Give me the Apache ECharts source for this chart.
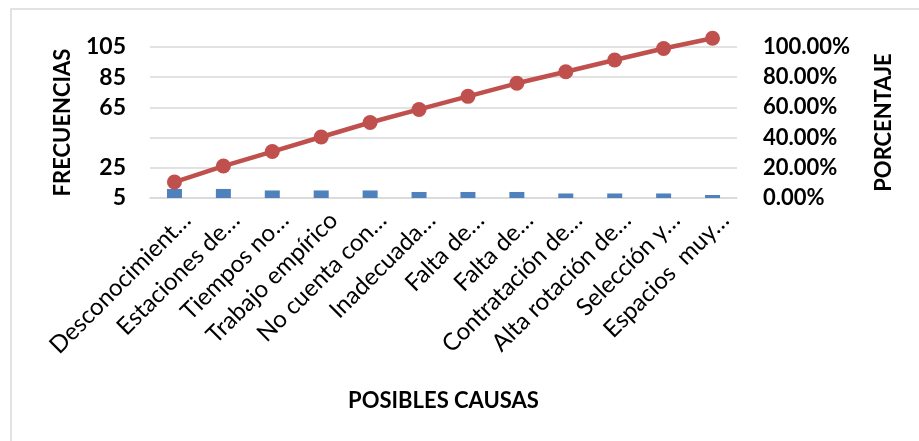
<!DOCTYPE html>
<html>
<head>
<meta charset="utf-8">
<script src="https://cdn.jsdelivr.net/npm/echarts@6/dist/echarts.min.js"></script>
<style>
html,body{margin:0;padding:0;background:#fff;}
#chart{width:919px;height:441px;}
</style>
</head>
<body>
<div id="chart"></div>
<script>
// ---- data ----
const categories = [
  'Desconocimient…', 'Estaciones de…', 'Tiempos no…', 'Trabajo empírico',
  'No cuenta con…', 'Inadecuada…', 'Falta de…', 'Falta de…',
  'Contratación de…', 'Alta rotación de…', 'Selección y…', 'Espacios  muy…'
];
const frecuencias = [11, 11, 10, 10, 10, 9, 9, 9, 8, 8, 8, 7];
const porcentaje = [10.58, 21.15, 30.77, 40.38, 50.00, 58.65, 67.31, 75.96, 83.65, 91.35, 99.04, 105.77];
const leftAxisMin = 5, leftAxisMax = 105, leftAxisStep = 20;
const leftHiddenTick = 45;
const rightAxisMin = 0, rightAxisMax = 100, rightAxisStep = 20;
const xAxisTitle = 'POSIBLES CAUSAS';
const leftAxisTitle = 'FRECUENCIAS';
const rightAxisTitle = 'PORCENTAJE';

const FONT = 'Lato';
const chart = echarts.init(document.getElementById('chart'), null, {renderer: 'canvas'});
chart.setOption({
  backgroundColor: '#ffffff',
  animation: false,
  graphic: [{
    type: 'rect', z: -10, silent: true,
    shape: {x: 11, y: 9, width: 1000, height: 1000},
    style: {fill: 'none', stroke: '#d9d9d9', lineWidth: 1.5}
  }],
  grid: {left: 150, right: 182, top: 47, bottom: 243},
  xAxis: {
    type: 'category',
    data: categories,
    name: xAxisTitle,
    nameLocation: 'middle',
    nameGap: 192,
    nameTextStyle: {fontFamily: FONT, fontWeight: 'bold', fontSize: 22, color: '#000'},
    axisLine: {lineStyle: {color: '#d9d9d9', width: 1.5}},
    axisTick: {show: false},
    axisLabel: {
      interval: 0, rotate: 45, margin: 6,
      verticalAlign: 'top', lineHeight: 35,
      fontFamily: FONT, fontSize: 24, color: '#000'
    }
  },
  yAxis: [{
    type: 'value',
    min: leftAxisMin, max: leftAxisMax, interval: leftAxisStep,
    startValue: leftAxisMin,
    name: leftAxisTitle,
    nameLocation: 'middle',
    nameGap: 76,
    nameTextStyle: {fontFamily: FONT, fontWeight: 'bold', fontSize: 22, color: '#000'},
    axisLine: {show: false},
    axisTick: {show: false},
    splitLine: {lineStyle: {color: '#d9d9d9', width: 1.5}},
    axisLabel: {
      margin: 24,
      fontFamily: FONT, fontWeight: 'bold', fontSize: 23, color: '#000',
      formatter: v => (v === leftHiddenTick ? '' : String(v))
    }
  }, {
    type: 'value',
    min: rightAxisMin, max: rightAxisMax, interval: rightAxisStep,
    position: 'right',
    name: rightAxisTitle,
    nameLocation: 'middle',
    nameGap: 136,
    nameTextStyle: {fontFamily: FONT, fontWeight: 'bold', fontSize: 22, color: '#000'},
    axisLine: {show: false},
    axisTick: {show: false},
    splitLine: {show: false},
    axisLabel: {
      margin: 26,
      fontFamily: FONT, fontWeight: 'bold', fontSize: 22, color: '#000',
      formatter: v => v.toFixed(2) + '%'
    }
  }],
  series: [{
    name: leftAxisTitle,
    type: 'bar',
    yAxisIndex: 0,
    data: frecuencias,
    barWidth: 15,
    clip: true,
    itemStyle: {color: '#4f81bd'}
  }, {
    name: rightAxisTitle,
    type: 'line',
    yAxisIndex: 1,
    data: porcentaje,
    clip: false,
    symbol: 'circle',
    symbolSize: 15,
    lineStyle: {color: '#c0504d', width: 4.5},
    itemStyle: {color: '#c0504d'}
  }]
});
</script>
</body>
</html>
